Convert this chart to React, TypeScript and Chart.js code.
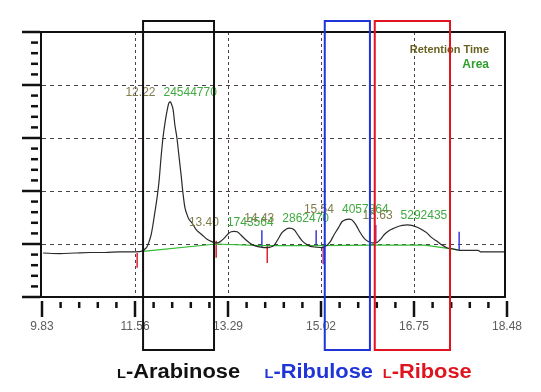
import React, { useEffect, useRef } from 'react';
import { Chart, registerables } from 'chart.js';

Chart.register(...registerables);

// ---- chromatogram trace (retention time, detector signal) ----
const traceTime = [
  9.85, 10.16, 10.44, 10.72, 11.0, 11.28, 11.56, 11.71, 11.75, 11.78, 11.82, 11.86, 11.89, 11.93,
  11.97, 12.01, 12.04, 12.08, 12.12, 12.16, 12.19, 12.22, 12.23, 12.27, 12.3, 12.34, 12.38, 12.42,
  12.45, 12.49, 12.53, 12.56, 12.62, 12.69, 12.81, 12.9, 13.0, 13.05, 13.09, 13.14, 13.22, 13.29,
  13.35, 13.4, 13.46, 13.53, 13.62, 13.72, 13.81, 13.9, 14.0, 14.07, 14.15, 14.22, 14.29, 14.37,
  14.43, 14.52, 14.59, 14.67, 14.74, 14.81, 14.93, 15.04, 15.11, 15.19, 15.26, 15.34, 15.41, 15.48,
  15.54, 15.6, 15.67, 15.74, 15.82, 15.89, 15.97, 16.04, 16.12, 16.19, 16.27, 16.34, 16.43, 16.53,
  16.63, 16.71, 16.8, 16.9, 16.99, 17.08, 17.18, 17.27, 17.36, 17.46, 17.55, 17.6, 17.7, 17.94,
  18.0, 18.44,
];
const traceSignal = [
  0.83, 0.82, 0.83, 0.84, 0.84, 0.85, 0.85, 0.87, 0.91, 0.94, 1.04, 1.17, 1.34, 1.6,
  1.87, 2.21, 2.58, 3.0, 3.3, 3.53, 3.66, 3.68, 3.66, 3.53, 3.26, 3.0, 2.64, 2.28,
  1.98, 1.68, 1.55, 1.47, 1.4, 1.28, 1.17, 1.09, 1.04, 1.02, 1.02, 1.04, 1.11, 1.19,
  1.23, 1.24, 1.23, 1.17, 1.08, 1.0, 0.96, 0.94, 0.93, 0.94, 0.98, 1.09, 1.21, 1.28,
  1.3, 1.27, 1.17, 1.06, 1.0, 0.96, 0.94, 0.93, 0.96, 1.04, 1.17, 1.3, 1.42, 1.46,
  1.47, 1.45, 1.36, 1.23, 1.11, 1.05, 1.02, 1.02, 1.08, 1.17, 1.24, 1.28, 1.32, 1.35,
  1.36, 1.35, 1.32, 1.27, 1.21, 1.12, 1.05, 0.98, 0.93, 0.91, 0.89, 0.88, 0.88, 0.88,
  0.85, 0.85,
];

// ---- integration baseline ----
const baselineTime = [11.71, 13.07, 13.9, 14.93, 16.04, 16.95, 17.58];
const baselineSignal = [0.86, 1.0, 0.97, 0.97, 0.98, 0.98, 0.89];

// ---- peak table ----
const peakTimes = [12.22, 13.4, 14.43, 15.54, 16.63];
const peakAreas = [24544770, 1743564, 2862470, 4057864, 5292435];
const peakHeights = [3.68, 1.24, 1.3, 1.47, 1.36];

// ---- peak start / end markers ----
const markerTimes = [11.6, 13.07, 14.02, 15.06, 16.04, 13.92, 14.93, 17.59];
const markerLow = [0.55, 0.74, 0.64, 0.62, 1.04, 0.94, 0.96, 0.87];
const markerHigh = [0.83, 1.06, 0.96, 0.98, 1.36, 1.26, 1.26, 1.23];
const markerKind = ['start', 'start', 'start', 'split', 'split', 'end', 'end', 'end'];

// ---- axes ----
const xTickValues = [9.83, 11.56, 13.29, 15.02, 16.75, 18.48];
const yTickValues = [0, 1, 2, 3, 4, 5];

// ---- highlighted sugars ----
const sugarNames = ['L-Arabinose', 'L-Ribulose', 'L-Ribose'];
const sugarFrom = [11.71, 15.09, 16.02];
const sugarTo = [13.03, 15.93, 17.42];

const FONT = '"Liberation Sans", Arial, Helvetica, sans-serif';
const sugarColors = ['#111111', '#1f35d8', '#e0141e'];
const markerColors: Record<string, string> = { start: '#e0202e', end: '#3a3ae0', split: '#b8309a' };

const decorPlugin = {
  id: 'chromDecor',
  beforeDatasetsDraw(chart: any) {
    const { ctx, chartArea: ca, scales } = chart;
    const xs = scales.x;
    const ys = scales.y;
    ctx.save();
    ctx.strokeStyle = '#4a3f4a';
    ctx.lineWidth = 1;
    // horizontal grid
    ctx.setLineDash([4, 4]);
    yTickValues.slice(1, -1).forEach((v) => {
      const y = Math.round(ys.getPixelForValue(v)) + 0.5;
      ctx.beginPath();
      ctx.moveTo(ca.left, y);
      ctx.lineTo(ca.right - 2, y);
      ctx.stroke();
    });
    // vertical grid
    ctx.setLineDash([3, 3]);
    xTickValues.slice(1, -1).forEach((v) => {
      const x = Math.round(xs.getPixelForValue(v)) + 0.5;
      ctx.beginPath();
      ctx.moveTo(x, ca.top);
      ctx.lineTo(x, ca.bottom);
      ctx.stroke();
    });
    ctx.restore();
  },
  afterDatasetsDraw(chart: any) {
    const { ctx, chartArea: ca, scales } = chart;
    const xs = scales.x;
    const ys = scales.y;
    ctx.save();
    // frame
    ctx.strokeStyle = '#111';
    ctx.lineWidth = 2;
    ctx.strokeRect(ca.left - 1, ca.top, ca.right - ca.left - 1, ca.bottom - ca.top);

    // y ticks (major + 4 minor)
    ctx.lineWidth = 2.5;
    for (let i = 0; i < yTickValues.length; i++) {
      const y = ys.getPixelForValue(yTickValues[i]);
      ctx.beginPath();
      ctx.moveTo(ca.left - 20, y);
      ctx.lineTo(ca.left - 2, y);
      ctx.stroke();
      if (i < yTickValues.length - 1) {
        const step = (yTickValues[i + 1] - yTickValues[i]) / 5;
        for (let k = 1; k < 5; k++) {
          const ym = ys.getPixelForValue(yTickValues[i] + step * k);
          ctx.beginPath();
          ctx.moveTo(ca.left - 11, ym);
          ctx.lineTo(ca.left - 4, ym);
          ctx.stroke();
        }
      }
    }
    // x ticks
    for (let i = 0; i < xTickValues.length; i++) {
      const x = xs.getPixelForValue(xTickValues[i]);
      ctx.beginPath();
      ctx.moveTo(x, ca.bottom + 4);
      ctx.lineTo(x, ca.bottom + 20);
      ctx.stroke();
      if (i < xTickValues.length - 1) {
        const step = (xTickValues[i + 1] - xTickValues[i]) / 5;
        for (let k = 1; k < 5; k++) {
          const xm = xs.getPixelForValue(xTickValues[i] + step * k);
          ctx.beginPath();
          ctx.moveTo(xm, ca.bottom + 5);
          ctx.lineTo(xm, ca.bottom + 11);
          ctx.stroke();
        }
      }
    }

    // peak labels
    ctx.font = `12px ${FONT}`;
    ctx.textBaseline = 'middle';
    peakTimes.forEach((t, i) => {
      const px = xs.getPixelForValue(t);
      const py = ys.getPixelForValue(peakHeights[i]) - 9;
      ctx.textAlign = 'right';
      ctx.fillStyle = '#817c4c';
      ctx.fillText(t.toFixed(2), px - 15, py);
      ctx.textAlign = 'left';
      ctx.fillStyle = '#3faa3f';
      ctx.fillText(String(peakAreas[i]), px - 7, py);
    });

    // legend
    ctx.textAlign = 'right';
    ctx.font = `bold 11px ${FONT}`;
    ctx.fillStyle = '#6a6222';
    ctx.fillText('Retention Time', ca.right - 18, ca.top + 18);
    ctx.font = `bold 12px ${FONT}`;
    ctx.fillStyle = '#2c9e2c';
    ctx.fillText('Area', ca.right - 18, ca.top + 33);

    // sugar boxes
    ctx.lineWidth = 2;
    sugarNames.forEach((_, i) => {
      const x1 = xs.getPixelForValue(sugarFrom[i]);
      const x2 = xs.getPixelForValue(sugarTo[i]);
      ctx.strokeStyle = sugarColors[i];
      ctx.strokeRect(x1, ca.top - 11, x2 - x1, ca.bottom + 53 - (ca.top - 11));
    });

    // sugar names (small-cap L prefix)
    const sx = 1.12;
    sugarNames.forEach((name, i) => {
      const x1 = xs.getPixelForValue(sugarFrom[i]);
      const x2 = xs.getPixelForValue(sugarTo[i]);
      const prefix = name.charAt(0);
      const rest = name.slice(1);
      ctx.font = `bold 13px ${FONT}`;
      const wL = ctx.measureText(prefix).width;
      ctx.font = `bold 19.5px ${FONT}`;
      const wR = ctx.measureText(rest).width;
      const total = (wL + wR) * sx;
      let left;
      if (i === 0) left = (x1 + x2) / 2 - total / 2;
      else if (i === 1) left = x2 + 3 - total;
      else left = x1 + 8;
      ctx.save();
      ctx.translate(left, ca.bottom + 81);
      ctx.scale(sx, 1);
      ctx.textAlign = 'left';
      ctx.textBaseline = 'alphabetic';
      ctx.fillStyle = sugarColors[i];
      ctx.font = `bold 13px ${FONT}`;
      ctx.fillText(prefix, 0, 0);
      ctx.font = `bold 19.5px ${FONT}`;
      ctx.fillText(rest, wL, 0);
      ctx.restore();
    });
    ctx.restore();
  },
};

export default function App() {
  const ref = useRef<HTMLCanvasElement | null>(null);
  useEffect(() => {
    if (!ref.current) return;
    const markerSets = markerTimes.map((t, i) => ({
      type: 'line' as const,
      data: [
        { x: t, y: markerLow[i] },
        { x: t, y: markerHigh[i] },
      ],
      borderColor: markerColors[markerKind[i]],
      borderWidth: 1.5,
      pointRadius: 0,
      fill: false,
    }));
    const chart = new Chart(ref.current, {
      type: 'line',
      data: {
        datasets: [
          {
            data: traceTime.map((t, i) => ({ x: t, y: traceSignal[i] })),
            borderColor: '#2a2a2a',
            borderWidth: 1.2,
            pointRadius: 0,
            fill: false,
            cubicInterpolationMode: 'monotone',
          },
          {
            data: baselineTime.map((t, i) => ({ x: t, y: baselineSignal[i] })),
            borderColor: '#33bb33',
            borderWidth: 1.2,
            pointRadius: 0,
            fill: false,
          },
          ...markerSets,
        ] as any,
      },
      options: {
        responsive: false,
        animation: false,
        events: [],
        layout: { padding: { left: 42, top: 32, right: 34, bottom: 0 } },
        plugins: { legend: { display: false }, tooltip: { enabled: false } },
        scales: {
          x: {
            type: 'linear',
            min: 9.83,
            max: 18.48,
            grid: { display: false, drawTicks: false },
            border: { display: false },
            afterBuildTicks: (scale: any) => {
              scale.ticks = xTickValues.map((value) => ({ value }));
            },
            afterFit: (scale: any) => {
              scale.height = 95;
              scale.paddingLeft = 0;
              scale.paddingRight = 0;
            },
            ticks: {
              autoSkip: false,
              maxRotation: 0,
              padding: 22,
              color: '#5c5c5c',
              font: { family: FONT, size: 12 },
              callback: (v: any) => Number(v).toFixed(2),
            },
          },
          y: {
            type: 'linear',
            min: 0,
            max: 5,
            display: false,
          },
        },
      },
      plugins: [decorPlugin],
    });
    return () => chart.destroy();
  }, []);
  return (
    <div style={{ position: 'fixed', left: 0, top: 0, width: 541, height: 392, background: '#fff' }}>
      <canvas ref={ref} width={541} height={392} style={{ display: 'block' }} />
    </div>
  );
}
